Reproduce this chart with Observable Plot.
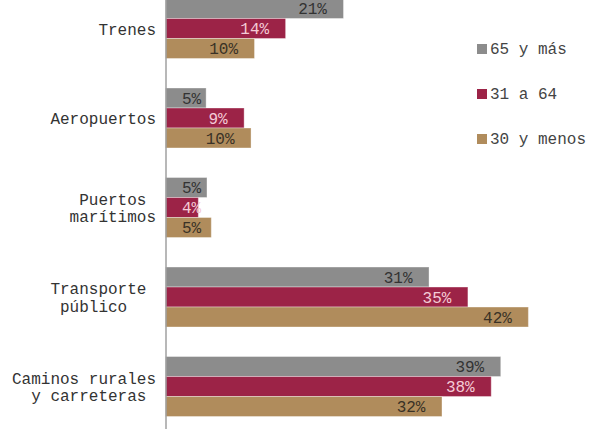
<!DOCTYPE html>
<html>
<head>
<meta charset="utf-8">
<script src="https://cdn.jsdelivr.net/npm/d3@7"></script>
<script src="https://cdn.jsdelivr.net/npm/@observablehq/plot@0.6"></script>
<style>
  html, body { margin: 0; padding: 0; background: #fff; }
  #wrap { position: relative; width: 593px; height: 429px; overflow: hidden; }
  svg text { white-space: pre; }
  .legend { position: absolute; left: 477px; top: 42px; font-family: "Courier New", "Liberation Mono", monospace; font-size: 16px; line-height: 16px; color: #444; }
  .legend .item { position: absolute; left: 0; white-space: nowrap; }
  .legend .sw { display: inline-block; width: 10px; height: 10px; margin-right: 3px; vertical-align: baseline; }
</style>
</head>
<body>
<div id="wrap"></div>
<script>
const categories = ["Trenes", "Aeropuertos", "Puertos marítimos", "Transporte público", "Caminos rurales y carreteras"];
const categoryLabels = ["Trenes", "Aeropuertos", "Puertos\u00a0\nmarítimos", "Transporte\u00a0\npúblico\u00a0\u00a0\u00a0", "Caminos rurales\ny carreteras\u00a0"];
const series = ["65 y más", "31 a 64", "30 y menos"];
const values65 = [20.6, 4.7, 4.8, 30.5, 38.8];
const values31 = [13.9, 9.1, 3.8, 35.0, 37.7];
const values30 = [10.3, 9.9, 5.3, 42.0, 32.0];
const colors = ["#8c8c8c", "#9c2347", "#b08c5c"];
const textColors = ["#333333", "#f4cbd6", "#3a3226"];

const seriesValues = [values65, values31, values30];
const rows = [];
categories.forEach((c, i) => {
  series.forEach((s, k) => rows.push({category: c, series: s, k, value: seriesValues[k][i]}));
});
const labelOf = new Map(categories.map((c, i) => [c, categoryLabels[i]]));
const font = '"Courier New", "Liberation Mono", monospace';

const marks = [];
series.forEach((s, k) => {
  const data = rows.filter(r => r.k === k);
  marks.push(Plot.barX(data, {
    y: "category", x: "value", fill: colors[k],
    stroke: "#ffffff", strokeOpacity: 0.35, strokeWidth: 1,
    insetTop: k * 20, insetBottom: (2 - k) * 20
  }));
  marks.push(Plot.text(data.filter(d => d.value >= 7), {
    y: "category", x: "value", text: d => Math.round(d.value) + "%",
    textAnchor: "end", dx: -17, dy: (k - 1) * 20, fill: textColors[k],
    fontSize: 16, fontFamily: font
  }));
  marks.push(Plot.text(data.filter(d => d.value < 7), {
    y: "category", x: () => 0, text: d => Math.round(d.value) + "%",
    textAnchor: "start", dx: 16, dy: (k - 1) * 20, fill: textColors[k],
    fontSize: 16, fontFamily: font
  }));
});
marks.push(Plot.ruleX([0], {stroke: "#a0a0a0", strokeWidth: 1.5}));
marks.push(Plot.axisY({
  tickSize: 0, tickPadding: 10, label: null,
  tickFormat: d => labelOf.get(d),
  fontSize: 16, fontFamily: font, lineHeight: 1.1, fill: "#333"
}));

const chart = Plot.plot({
  width: 593, height: 429,
  marginTop: 0, marginBottom: 0, marginLeft: 165.5, marginRight: 0,
  style: {fontFamily: font, background: "#fff"},
  x: {domain: [0, 50], range: [165.5, 165.5 + 50 * 8.64], axis: null},
  y: {domain: categories, range: [-1.5, 416.5], paddingInner: 0.33, paddingOuter: 0, round: false, axis: null},
  marks
});
const wrap = document.getElementById("wrap");
wrap.appendChild(chart);

const legend = document.createElement("div");
legend.className = "legend";
series.forEach((s, k) => {
  const item = document.createElement("div");
  item.className = "item";
  item.style.top = (k * 45) + "px";
  const sw = document.createElement("span");
  sw.className = "sw";
  sw.style.background = colors[k];
  item.appendChild(sw);
  item.appendChild(document.createTextNode(s));
  legend.appendChild(item);
});
wrap.appendChild(legend);
</script>
</body>
</html>
